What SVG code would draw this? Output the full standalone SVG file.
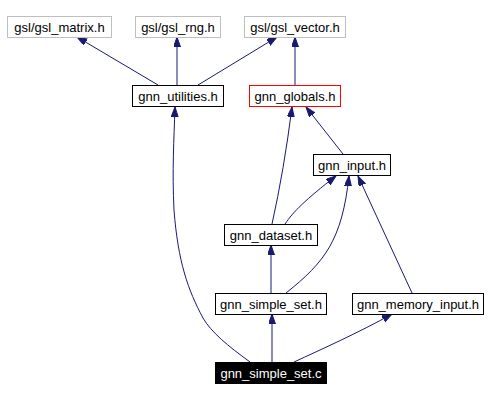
<svg xmlns="http://www.w3.org/2000/svg" width="489" height="401" viewBox="0 0 489 401">
<style>
.n rect{fill:#fff;stroke:#000;stroke-width:1}
.g rect{stroke:#bfbfbf}
.r rect{stroke:#ff0000}
.k rect{fill:#000}
text{font-family:"Liberation Sans",Arial,sans-serif;font-size:13px;text-anchor:middle;fill:#000}
.k text{fill:#fff}
.e path{fill:none;stroke:#191970;stroke-width:1;marker-end:url(#a)}
</style>
<defs>
<marker id="a" markerUnits="userSpaceOnUse" markerWidth="11" markerHeight="8" refX="10" refY="3.5" orient="auto">
<path d="M0,0 L10,3.5 L0,7 z" fill="#191970" stroke="#191970"/>
</marker>
</defs>
<rect width="489" height="401" fill="#fff"/>
<g class="e" id="edges">
<path d="M158,85 L77,37"/>
<path d="M177,85 L177,37"/>
<path d="M198,85 L277,37"/>
<path d="M295,85 L295,37"/>
<path d="M343,154 L306,107"/>
<path d="M272,224 Q284,170 292,107"/>
<path d="M285,224 C293,212 305,200 336,176"/>
<path d="M286,293 C325,262 342,240 349,176"/>
<path d="M412,293 L358,176"/>
<path d="M271,293 L271,245"/>
<path d="M272,362 L272,314"/>
<path d="M294,362 C320,350 360,332 392,314"/>
<path d="M250,362 C228,346 211,332 203,318 C188,290 178,262 174,210 C172,170 174,140 175,107"/>
</g>
<g id="gsl_matrix" class="n g"><rect x="7.5" y="16.5" width="104" height="21"/><text x="59.5" y="31.5">gsl/gsl_matrix.h</text></g>
<g id="gsl_rng" class="n g"><rect x="135.5" y="16.5" width="85" height="21"/><text x="178" y="31.5">gsl/gsl_rng.h</text></g>
<g id="gsl_vector" class="n g"><rect x="244.5" y="16.5" width="101" height="21"/><text x="295" y="31.5">gsl/gsl_vector.h</text></g>
<g id="gnn_utilities" class="n"><rect x="132.5" y="85.5" width="91" height="21"/><text x="178" y="100.5">gnn_utilities.h</text></g>
<g id="gnn_globals" class="n r"><rect x="249.5" y="85.5" width="91" height="21"/><text x="295" y="100.5">gnn_globals.h</text></g>
<g id="gnn_input" class="n"><rect x="313.5" y="154.5" width="77" height="21"/><text x="352" y="169.5">gnn_input.h</text></g>
<g id="gnn_dataset" class="n"><rect x="224.5" y="224.5" width="93" height="21"/><text x="271" y="239.5">gnn_dataset.h</text></g>
<g id="gnn_simple_set_h" class="n"><rect x="215.5" y="293.5" width="111" height="21"/><text x="271" y="308.5">gnn_simple_set.h</text></g>
<g id="gnn_memory_input" class="n"><rect x="352.5" y="293.5" width="131" height="21"/><text x="418" y="308.5">gnn_memory_input.h</text></g>
<g id="gnn_simple_set_c" class="n k"><rect x="215.5" y="362.5" width="111" height="21"/><text x="271" y="377.5">gnn_simple_set.c</text></g>
</svg>
